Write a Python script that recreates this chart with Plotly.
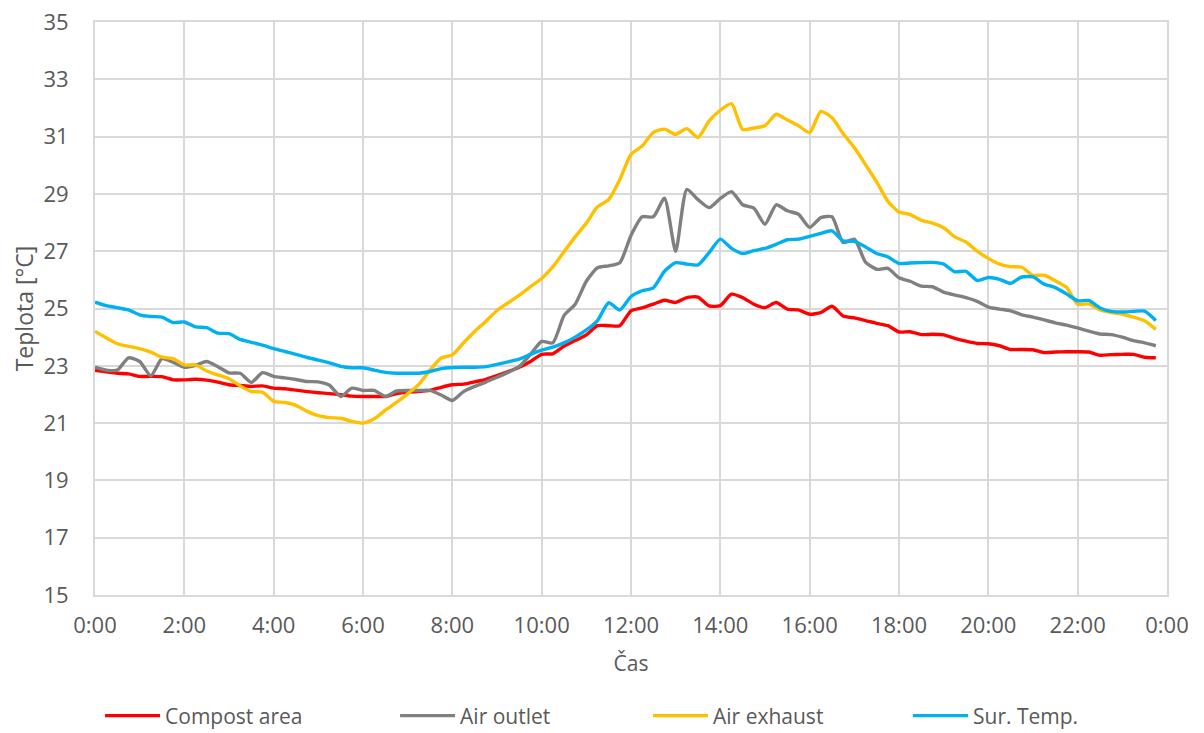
import plotly.graph_objects as go

# time in hours, 15-minute steps
hours = [i * 0.25 for i in range(96)]

compost_area = [
    22.84, 22.79, 22.74, 22.72, 22.63, 22.63, 22.62, 22.51, 22.51, 22.53, 22.50, 22.43,
    22.34, 22.31, 22.28, 22.30, 22.22, 22.20, 22.15, 22.10, 22.06, 22.03, 21.99, 21.94,
    21.93, 21.93, 21.93, 22.03, 22.08, 22.10, 22.14, 22.25, 22.34, 22.36, 22.44, 22.53,
    22.66, 22.80, 22.95, 23.15, 23.40, 23.42, 23.68, 23.88, 24.08, 24.40, 24.40, 24.40,
    24.92, 25.02, 25.15, 25.29, 25.21, 25.38, 25.40, 25.09, 25.10, 25.50, 25.38, 25.15,
    25.03, 25.21, 24.98, 24.95, 24.80, 24.86, 25.08, 24.74, 24.67, 24.58, 24.48, 24.40,
    24.18, 24.19, 24.09, 24.10, 24.08, 23.96, 23.86, 23.78, 23.77, 23.70, 23.57, 23.57,
    23.56, 23.46, 23.48, 23.49, 23.49, 23.48, 23.37, 23.39, 23.40, 23.40, 23.30, 23.28,
]

air_outlet = [
    22.95, 22.85, 22.85, 23.28, 23.15, 22.65, 23.25, 23.12, 22.95, 23.02, 23.15, 22.97,
    22.75, 22.74, 22.42, 22.76, 22.63, 22.58, 22.52, 22.45, 22.44, 22.32, 21.93, 22.22,
    22.14, 22.14, 21.93, 22.12, 22.14, 22.14, 22.14, 21.98, 21.79, 22.10, 22.28, 22.43,
    22.60, 22.77, 22.98, 23.40, 23.85, 23.80, 24.75, 25.15, 25.95, 26.42, 26.49, 26.60,
    27.55, 28.20, 28.20, 28.85, 27.00, 29.16, 28.80, 28.52, 28.84, 29.08, 28.62, 28.50,
    27.94, 28.62, 28.41, 28.29, 27.83, 28.17, 28.20, 27.30, 27.42, 26.62, 26.37, 26.40,
    26.07, 25.95, 25.78, 25.76, 25.57, 25.47, 25.38, 25.25, 25.05, 24.98, 24.92, 24.78,
    24.70, 24.60, 24.50, 24.42, 24.32, 24.21, 24.11, 24.09, 24.00, 23.88, 23.80, 23.70,
]

air_exhaust = [
    24.20, 23.98, 23.77, 23.68, 23.60, 23.48, 23.30, 23.25, 23.03, 23.03, 22.82, 22.68,
    22.55, 22.30, 22.10, 22.08, 21.76, 21.72, 21.62, 21.41, 21.26, 21.19, 21.17, 21.06,
    21.00, 21.15, 21.45, 21.72, 22.02, 22.35, 22.85, 23.27, 23.38, 23.80, 24.20, 24.55,
    24.93, 25.20, 25.47, 25.76, 26.05, 26.45, 26.98, 27.50, 27.98, 28.55, 28.80, 29.50,
    30.38, 30.67, 31.15, 31.26, 31.08, 31.28, 30.97, 31.55, 31.92, 32.15, 31.25, 31.30,
    31.38, 31.78, 31.58, 31.38, 31.14, 31.88, 31.66, 31.10, 30.62, 30.02, 29.42, 28.74,
    28.37, 28.28, 28.08, 27.98, 27.82, 27.50, 27.32, 27.00, 26.75, 26.55, 26.46, 26.44,
    26.16, 26.16, 25.97, 25.74, 25.15, 25.16, 24.95, 24.86, 24.80, 24.70, 24.57, 24.27,
]

sur_temp = [
    25.22, 25.10, 25.03, 24.95, 24.78, 24.72, 24.70, 24.51, 24.53, 24.36, 24.33, 24.14,
    24.12, 23.92, 23.82, 23.72, 23.60, 23.50, 23.40, 23.29, 23.20, 23.10, 22.98, 22.93,
    22.93, 22.85, 22.77, 22.74, 22.74, 22.74, 22.80, 22.90, 22.94, 22.95, 22.95, 22.97,
    23.05, 23.14, 23.23, 23.40, 23.55, 23.65, 23.80, 24.00, 24.25, 24.58, 25.20, 24.95,
    25.42, 25.62, 25.72, 26.30, 26.60, 26.55, 26.52, 26.95, 27.42, 27.10, 26.92, 27.02,
    27.10, 27.24, 27.40, 27.42, 27.52, 27.62, 27.71, 27.36, 27.34, 27.15, 26.92, 26.80,
    26.57, 26.59, 26.60, 26.61, 26.55, 26.28, 26.30, 25.98, 26.08, 26.02, 25.88, 26.10,
    26.10, 25.85, 25.73, 25.51, 25.27, 25.28, 25.02, 24.90, 24.88, 24.90, 24.91, 24.58,
]

series_names = ["Compost area", "Air outlet", "Air exhaust", "Sur. Temp."]
series_colors = ["#FF0000", "#808080", "#FFC000", "#00B0F0"]
series_values = [compost_area, air_outlet, air_exhaust, sur_temp]
legend_x = [0.0047, 0.2799, 0.5159, 0.7584]

x_tick_vals = list(range(0, 25, 2))
x_tick_text = ["0:00", "2:00", "4:00", "6:00", "8:00", "10:00", "12:00",
               "14:00", "16:00", "18:00", "20:00", "22:00", "0:00"]
y_tick_vals = list(range(15, 36, 2))

FONT = "Open Sans, Liberation Sans, sans-serif"
GRID = "#d9d9d9"
TXT = "#595959"

fig = go.Figure()
legend_ids = ["legend", "legend2", "legend3", "legend4"]
for name, color, vals, lid in zip(series_names, series_colors, series_values, legend_ids):
    fig.add_trace(go.Scatter(
        x=hours, y=vals, name=name, mode="lines", legend=lid,
        line=dict(color=color, width=3.4, shape="spline", smoothing=0.6),
    ))

layout_legends = {}
for lid, lx in zip(legend_ids, legend_x):
    layout_legends[lid] = dict(
        orientation="h", x=lx, y=-0.2112, xanchor="left", yanchor="middle",
        font=dict(family=FONT, size=21, color=TXT), itemwidth=55,
        bgcolor="rgba(0,0,0,0)",
    )

fig.update_layout(
    width=1204, height=733,
    margin=dict(l=87, r=45, t=14, b=146, autoexpand=False),
    plot_bgcolor="white", paper_bgcolor="white",
    font=dict(family=FONT, color=TXT, size=21),
    showlegend=True,
    **layout_legends,
)
fig.update_xaxes(
    range=[0, 24], tickvals=x_tick_vals, ticktext=x_tick_text,
    showgrid=True, gridcolor=GRID, gridwidth=2,
    showline=True, linecolor=GRID, linewidth=2, mirror="all",
    zeroline=False, ticks="outside", ticklen=10, tickcolor="rgba(0,0,0,0)",
    automargin=False, ticklabeloverflow="allow",
    tickfont=dict(size=22, color=TXT, family=FONT),
    title=dict(text="Čas", font=dict(size=21, color=TXT, family=FONT), standoff=18),
)
fig.update_yaxes(
    range=[15, 35], tickvals=y_tick_vals,
    showgrid=True, gridcolor=GRID, gridwidth=2,
    showline=True, linecolor=GRID, linewidth=2, mirror="all",
    zeroline=False, ticks="outside", ticklen=20, tickcolor="rgba(0,0,0,0)",
    automargin=False, ticklabeloverflow="allow",
    tickfont=dict(size=22, color=TXT, family=FONT),
    title=dict(text="Teplota [°C]", font=dict(size=23, color=TXT, family=FONT), standoff=16),
)

fig.write_html("out.html")
